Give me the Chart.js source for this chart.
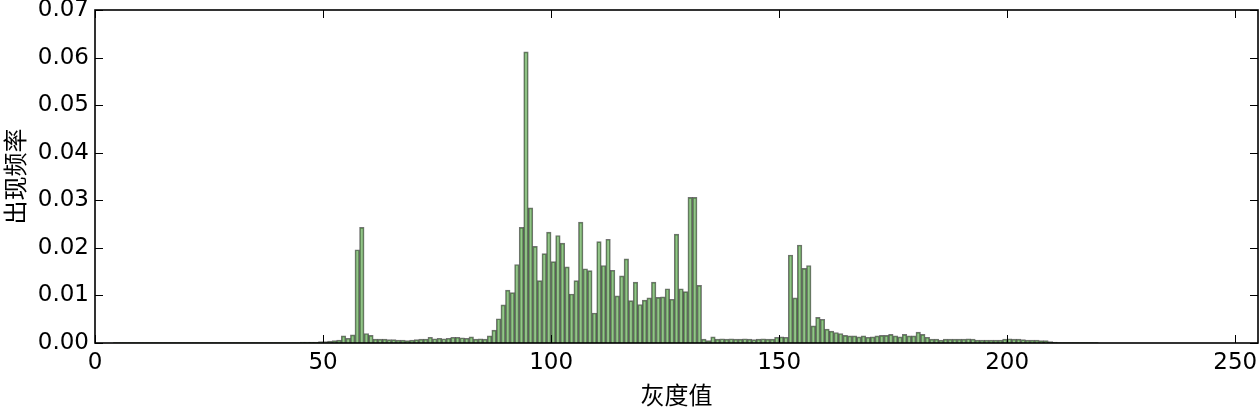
<!DOCTYPE html>
<html>
<head>
<meta charset="utf-8">
<script src="https://cdn.jsdelivr.net/npm/chart.js@4/dist/chart.umd.min.js"></script>
<style>
  html, body { margin: 0; padding: 0; background: #fff; }
  #wrap { width: 1260px; height: 410px; }
</style>
</head>
<body>
<div id="wrap"><canvas id="myChart" width="1260" height="410"></canvas></div>
<script>
// gray-level histogram (frequency per gray level)
var freq000 = [
    0, 0, 0, 0,
    0.0001, 0.0001, 0.0001, 0.0001, 0.0001, 0.0001, 0.0001, 0.0001, 0.0001, 0.0001,
    0.0001, 0.0001, 0.0001, 0.0001, 0.0001, 0.0001, 0.0001, 0.0001, 0.0001, 0.0001,
    0.0001, 0.0001, 0.0001, 0.0001, 0.0001, 0.0001, 0.0001, 0.0001, 0.0001, 0.0001,
    0.0001, 0.0001, 0.0001, 0.0001, 0.0001, 0.0001, 0.0001, 0.0001, 0.0001, 0.0001,
    0.0001,
    0.0002, 0.0002, 0.0002, 0.0002, 0.0003, 0.0003, 0.0004,
    0.0005, 0.0006, 0.0015, 0.0010, 0.0017, 0.0196, 0.0243, 0.0020, 0.0016,
    0.0008, 0.0008, 0.0008
];
var freq064 = [
    0.0007, 0.0007, 0.0006, 0.0006, 0.0005, 0.0006, 0.0007, 0.0008, 0.0008, 0.0012,
    0.0009, 0.0010, 0.0009, 0.0010, 0.0012, 0.0012, 0.0011, 0.0010, 0.0013, 0.0008,
    0.0009, 0.0008, 0.0015, 0.0027, 0.0051, 0.0080, 0.0111, 0.0106, 0.0165, 0.0243,
    0.0612, 0.0284, 0.0203, 0.0131, 0.0188, 0.0233, 0.0171, 0.0226, 0.0210, 0.0160,
    0.0103, 0.0131, 0.0254, 0.0156, 0.0152, 0.0063, 0.0213, 0.0163, 0.0218, 0.0153,
    0.0099, 0.0141, 0.0177, 0.0089, 0.0128, 0.0081, 0.0090, 0.0095, 0.0128, 0.0096,
    0.0097, 0.0114, 0.0092, 0.0229
];
var freq128 = [
    0.0114, 0.0108, 0.0306, 0.0306, 0.0121, 0.0008, 0.0005, 0.0013, 0.0008, 0.0009,
    0.0008, 0.0009, 0.0008, 0.0008, 0.0009, 0.0008, 0.0007, 0.0008, 0.0009, 0.0008,
    0.0008, 0.0012, 0.0013, 0.0012, 0.0185, 0.0095, 0.0206, 0.0157, 0.0163, 0.0036,
    0.0054, 0.0050, 0.0029, 0.0025, 0.0022, 0.0020, 0.0016, 0.0015, 0.0015, 0.0013,
    0.0015, 0.0012, 0.0013, 0.0015, 0.0016, 0.0016, 0.0018, 0.0015, 0.0013, 0.0018,
    0.0015, 0.0015, 0.0023, 0.0018, 0.0012, 0.0008, 0.0008, 0.0006, 0.0008, 0.0008,
    0.0008, 0.0008, 0.0008, 0.0009
];
var freq192 = [
    0.0008, 0.0006, 0.0006, 0.0006, 0.0006, 0.0006, 0.0006, 0.0008, 0.0009, 0.0008,
    0.0008, 0.0007, 0.0006, 0.0006, 0.0006, 0.0005, 0.0005, 0.0003, 0.0002, 0.0001,
    0.0001, 0.0001, 0.0001, 0.0001, 0.0001, 0.0001, 0.0001, 0.0001,
    0, 0, 0, 0, 0, 0, 0, 0, 0, 0, 0, 0, 0, 0, 0, 0, 0, 0,
    0, 0, 0, 0, 0, 0, 0, 0, 0, 0, 0, 0, 0, 0, 0, 0, 0, 0
];
var xTicks = [0, 50, 100, 150, 200, 250];
var yTicks = [0, 0.01, 0.02, 0.03, 0.04, 0.05, 0.06, 0.07];

var freq = freq000.concat(freq064, freq128, freq192);
var grayLevels = freq.map(function (v, i) { return i; });

// each bin covers [level, level+1)
var points = grayLevels.map(function (g, i) {
    return { x: g + 0.5, y: freq[i] };
});

var tickFont = { family: 'DejaVu Sans', size: 23 };
var titleFont = { family: 'Noto Sans CJK SC', size: 24 };

// matplotlib-like frame with inward ticks on all four sides
var frame = {
    id: 'frame',
    afterDraw: function (chart) {
        var c = chart.ctx, a = chart.chartArea;
        var xs = chart.scales.x, ys = chart.scales.y;
        var len = 8;
        c.save();
        c.strokeStyle = '#000';
        c.lineWidth = 1;
        c.beginPath();
        xTicks.forEach(function (t) {
            var px = Math.round(xs.getPixelForValue(t)) + 0.5;
            c.moveTo(px, a.bottom); c.lineTo(px, a.bottom - len);
            c.moveTo(px, a.top); c.lineTo(px, a.top + len);
        });
        yTicks.forEach(function (t) {
            var py = Math.round(ys.getPixelForValue(t)) + 0.5;
            c.moveTo(a.left, py); c.lineTo(a.left + len, py);
            c.moveTo(a.right, py); c.lineTo(a.right - len, py);
        });
        c.stroke();
        c.lineWidth = 1.6;
        c.strokeRect(a.left, a.top, a.right - a.left, a.bottom - a.top);
        c.restore();
    }
};

var ctx = document.getElementById('myChart').getContext('2d');
var myChart = new Chart(ctx, {
    type: 'bar',
    data: {
        datasets: [{
            data: points,
            backgroundColor: 'rgba(40, 140, 20, 0.5)',
            borderColor: 'rgba(0, 0, 0, 0.55)',
            borderWidth: 1,
            barPercentage: 1.0,
            categoryPercentage: 1.0
        }]
    },
    options: {
        responsive: false,
        animation: false,
        layout: { padding: { top: 10, right: 2, left: 0, bottom: 0 } },
        plugins: { legend: { display: false }, tooltip: { enabled: false } },
        scales: {
            x: {
                type: 'linear',
                offset: false,
                min: 0,
                max: 255,
                grid: { display: false, drawTicks: false, offset: false },
                border: { display: false },
                ticks: {
                    stepSize: 50,
                    includeBounds: false,
                    maxRotation: 0,
                    padding: 6,
                    color: '#000',
                    font: tickFont
                },
                afterBuildTicks: function (s) {
                    s.ticks = xTicks.map(function (v) { return { value: v }; });
                },
                afterFit: function (s) {
                    s.height = 67;
                    s.paddingLeft = 0;
                    s.paddingRight = 0;
                },
                title: {
                    display: true,
                    text: '灰度值',
                    color: '#000',
                    font: titleFont,
                    padding: { top: 0, bottom: 1 }
                }
            },
            y: {
                min: 0,
                max: 0.07,
                grid: { display: false, drawTicks: false },
                border: { display: false },
                ticks: {
                    stepSize: 0.01,
                    padding: 6,
                    color: '#000',
                    font: tickFont,
                    callback: function (v) { return v.toFixed(2); }
                },
                afterBuildTicks: function (s) {
                    s.ticks = yTicks.map(function (v) { return { value: v }; });
                },
                afterFit: function (s) {
                    s.width = 95;
                    s.paddingTop = 0;
                    s.paddingBottom = 0;
                },
                title: {
                    display: true,
                    text: '出现频率',
                    color: '#000',
                    font: titleFont,
                    padding: { top: 0, bottom: 0 }
                }
            }
        }
    },
    plugins: [frame]
});
</script>
</body>
</html>
